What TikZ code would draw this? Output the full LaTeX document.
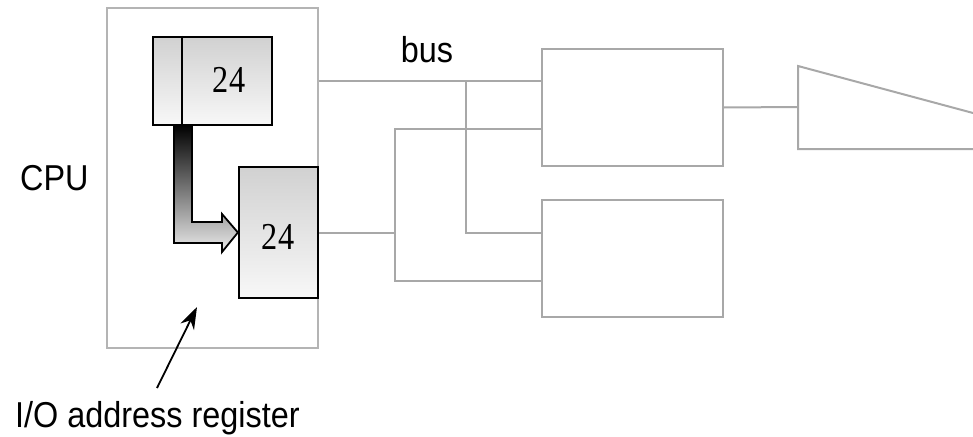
\documentclass[tikz,border=0pt]{standalone}
\usepackage{fontspec}
\usetikzlibrary{calc,arrows.meta}
\newfontfamily\lblfont[FakeStretch=0.9]{Liberation Sans}
\newfontfamily\numfont[FakeStretch=0.85]{Liberation Serif}
\definecolor{wire}{HTML}{A8A8A8}
\definecolor{frame}{HTML}{B4B4B4}
\begin{document}
\begin{tikzpicture}[x=1pt,y=-1pt,
  wirestyle/.style={draw=wire,line width=2pt},
  box/.style={draw=wire,line width=2pt,rectangle,inner sep=0pt},
  reg/.style={draw=black,line width=2.2pt,rectangle,inner sep=0pt,
    top color=black!18,bottom color=black!3},
  lbl/.style={font=\lblfont\fontsize{36}{40}\selectfont,inner sep=0pt},
  num/.style={font=\numfont\fontsize{38}{42}\selectfont,inner sep=0pt}]
\useasboundingbox (0,0) rectangle (973,436);

% CPU frame and its registers
\node[draw=frame,line width=1.8pt,rectangle,inner sep=0pt,
  minimum width=211pt,minimum height=340pt] (cpu) at (212.5,178) {};
\node[reg,minimum width=119pt,minimum height=88pt] (regA) at (212.5,81) {};
\draw[black,line width=2.2pt] ($(regA.north west)+(30,0)$) -- ($(regA.south west)+(30,0)$);
\node[num] (numA) at (229,80) {24};
\node[reg,minimum width=79pt,minimum height=131pt] (regB) at (278.5,232.5) {};
\node[num] (numB) at (278,237) {24};

% transfer arrow from the register into the I/O address register
\shade[top color=black,bottom color=black!8,draw=black,line width=1.8pt,line join=miter]
  (174,125) -- (192,125) -- (192,222) -- (222,222) -- (222,214)
  -- (regB.west) -- (222,252) -- (222,243) -- (174,243) -- cycle;

% devices on the bus
\node[box,minimum width=181pt,minimum height=117pt] (dev1) at (632.5,107.5) {};
\node[box,minimum width=181pt,minimum height=117pt] (dev2) at (632.5,258.5) {};

% bus wiring
\coordinate (j1) at (466,81);
\coordinate (j2) at (395,232.5);
\draw[wirestyle] (cpu.east |- regA.center) -- (dev1.west |- regA.center);
\draw[wirestyle] (j1) |- (dev2.west |- 0,233);
\draw[wirestyle] (regB.east) -- (j2);
\draw[wirestyle] (dev1.west |- 0,129) -| (395,281) -- (dev2.west |- 0,281);

% output stage
\coordinate (tri) at (798,107);
\draw[wirestyle] (dev1.east) -- (tri);
\draw[wirestyle,line join=miter] (973,113) -- (798,66) -- (798,149) -- (973,149);

% labels
\node[lbl,anchor=base west] (cpulbl) at (20,190) {CPU};
\node[lbl,anchor=base] (buslbl) at (427,63) {bus};
\node[lbl,anchor=base west] (iolbl) at (15,427) {I/O address register};
\coordinate (ptrtail) at (157,388);
\coordinate (ptrhead) at (197,307);
\draw[line width=1.8pt,-{Stealth[length=22pt,width=15pt]}] (ptrtail) -- (ptrhead);
\end{tikzpicture}
\end{document}
